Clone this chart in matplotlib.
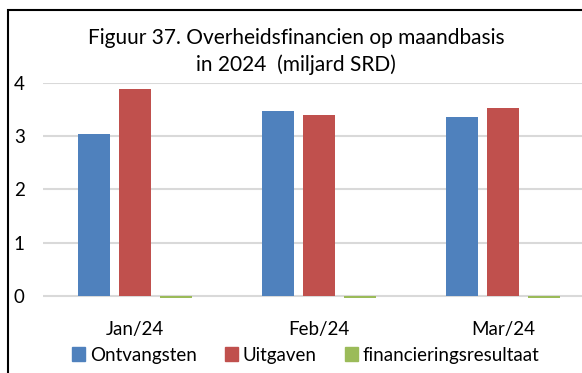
import numpy as np
import matplotlib.pyplot as plt
from matplotlib.patches import Rectangle, Patch

months = ['Jan/24', 'Feb/24', 'Mar/24']
ontvangsten = [3.04, 3.47, 3.36]
uitgaven = [3.89, 3.40, 3.53]
resultaat = [-0.03, -0.03, -0.03]

series = [('Ontvangsten', ontvangsten, '#4F81BD'),
          ('Uitgaven', uitgaven, '#C0504D'),
          ('financieringsresultaat', resultaat, '#9BBB59')]

plt.rcParams['font.family'] = ['Lato', 'DejaVu Sans']

W, H = 582, 373
fig = plt.figure(figsize=(W / 100, H / 100), dpi=100)

# axes run past the right edge, like the cropped source chart
ax = fig.add_axes([43 / W, 1 - 301.3 / H, 552 / W, 218.3 / H])

x = np.arange(len(months))
width = 0.174
step = 0.223
for i, (name, vals, col) in enumerate(series):
    ax.bar(x + (i - 1) * step, vals, width, color=col, label=name, zorder=3)

ax.set_xlim(-0.5, 2.5)
ax.set_ylim(-0.1, 4)
ax.set_yticks([0, 1, 2, 3, 4])
ax.yaxis.grid(True, color='#d9d9d9', linewidth=1.5, zorder=0)
for s in ax.spines.values():
    s.set_visible(False)
ax.tick_params(axis='y', length=0, pad=21, labelsize=13.5)
ax.tick_params(axis='x', length=0, pad=14, labelsize=13.5)
ax.set_xticks(x)
ax.set_xticklabels(months)
for t in ax.get_yticklabels():
    t.set_horizontalalignment('left')

fig.text(296 / W, 1 - 38 / H, 'Figuur 37. Overheidsfinancien op maandbasis',
         ha='center', va='center', fontsize=15)
fig.text(296 / W, 1 - 65 / H, 'in 2024  (miljard SRD)',
         ha='center', va='center', fontsize=15)

handles = [Patch(color=c, label=n) for n, _, c in series]
fig.legend(handles=handles, loc='center', bbox_to_anchor=(306 / W, 1 - 355 / H),
           ncol=3, frameon=False, fontsize=13.5, handlelength=0.7, handleheight=0.7,
           handletextpad=0.25, columnspacing=1.5)

# outer chart frame (only left and top edges fall inside the image)
fig.patches.append(Rectangle((8 / W, -0.2), 2, 1.2 - 10 / H, transform=fig.transFigure,
                             fill=False, edgecolor='black', linewidth=1.5))

fig.savefig('out.png', dpi=100)
